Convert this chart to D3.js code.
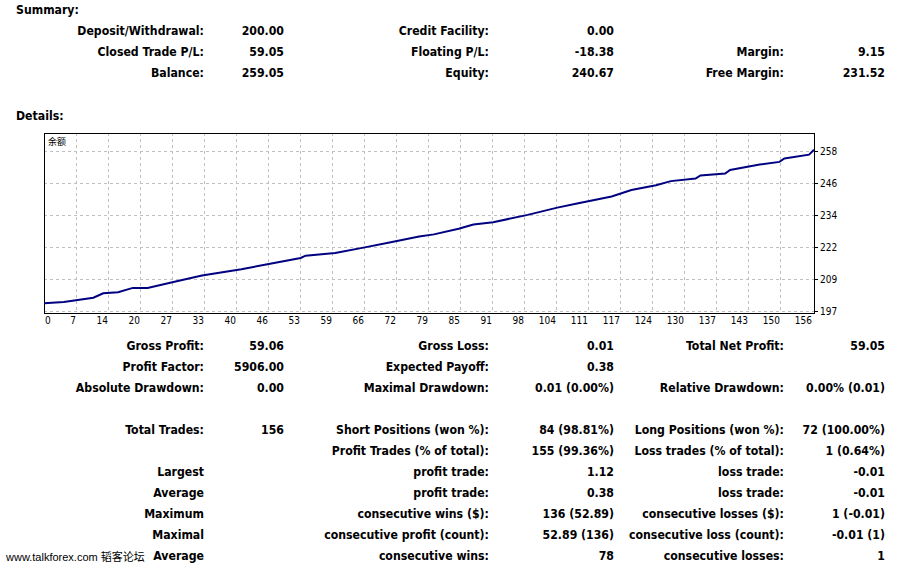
<!DOCTYPE html>
<html>
<head>
<meta charset="utf-8">
<script src="https://cdn.jsdelivr.net/npm/d3@7"></script>
<style>
  body { margin: 0; background: #fff; }
  text { fill: #000; }
</style>
</head>
<body>
<div id="chart"></div>
<script>
// summary block
const summaryLabelsA = ["Deposit/Withdrawal:", "Closed Trade P/L:", "Balance:"];
const summaryValuesA = ["200.00", "59.05", "259.05"];
const summaryLabelsB = ["Credit Facility:", "Floating P/L:", "Equity:"];
const summaryValuesB = ["0.00", "-18.38", "240.67"];
const summaryLabelsC = ["", "Margin:", "Free Margin:"];
const summaryValuesC = ["", "9.15", "231.52"];

// details block
const detailLabelsA = ["Gross Profit:", "Profit Factor:", "Absolute Drawdown:", "", "Total Trades:", "", "Largest", "Average", "Maximum", "Maximal", "Average"];
const detailValuesA = ["59.06", "5906.00", "0.00", "", "156", "", "", "", "", "", ""];
const detailLabelsB = ["Gross Loss:", "Expected Payoff:", "Maximal Drawdown:", "", "Short Positions (won %):", "Profit Trades (% of total):", "profit trade:", "profit trade:", "consecutive wins ($):", "consecutive profit (count):", "consecutive wins:"];
const detailValuesB = ["0.01", "0.38", "0.01 (0.00%)", "", "84 (98.81%)", "155 (99.36%)", "1.12", "0.38", "136 (52.89)", "52.89 (136)", "78"];
const detailLabelsC = ["Total Net Profit:", "", "Relative Drawdown:", "", "Long Positions (won %):", "Loss trades (% of total):", "loss trade:", "loss trade:", "consecutive losses ($):", "consecutive loss (count):", "consecutive losses:"];
const detailValuesC = ["59.05", "", "0.00% (0.01)", "", "72 (100.00%)", "1 (0.64%)", "-0.01", "-0.01", "1 (-0.01)", "-0.01 (1)", "1"];

// balance curve
const tradeNo = [0, 4, 10, 12, 15, 18, 21, 26, 32, 40, 45, 52, 53, 59, 65, 70, 76, 79, 84, 87, 91, 98, 104, 108, 115, 119, 124, 127, 132, 133, 138, 139, 145, 149, 150, 155, 156];
const balance = [200.0, 200.5, 202.1, 203.8, 204.2, 205.9, 205.9, 208.1, 210.7, 213.1, 214.9, 217.4, 218.3, 219.3, 221.5, 223.4, 225.7, 226.5, 228.7, 230.3, 231.2, 234.0, 236.8, 238.4, 241.1, 243.6, 245.4, 247.0, 248.0, 249.2, 249.9, 251.3, 253.4, 254.4, 255.7, 257.2, 259.05];

const xTickLabels = ["0", "7", "14", "20", "27", "33", "40", "46", "53", "59", "66", "72", "79", "85", "91", "98", "104", "111", "117", "124", "130", "137", "143", "150", "156"];
const yTickLabels = ["197", "209", "222", "234", "246", "258"];

const width = 922, height = 567;
const plot = {left: 44, top: 133, right: 814, bottom: 313};
const font = "'DejaVu Sans Condensed', 'Liberation Sans', sans-serif";

let svg = d3.select("#chart").append("svg")
    .attr("width", width)
    .attr("height", height)
    .style("font-family", font)
    .style("font-weight", "bold")
    .style("font-size", "12.2px");

// headings
svg.append("text").attr("x", 16).attr("y", 14).text("Summary:");
svg.append("text").attr("x", 16).attr("y", 120).text("Details:");

// rows of label / value pairs, right aligned
function drawColumn(labels, values, labelX, valueX, rowY) {
  let g = svg.append("g");
  g.selectAll(".lbl")
      .data(labels)
    .enter()
      .append("text")
      .attr("x", labelX)
      .attr("y", (d, i) => rowY(i))
      .attr("text-anchor", "end")
      .text(d => d);
  g.selectAll(".val")
      .data(values)
    .enter()
      .append("text")
      .attr("x", valueX)
      .attr("y", (d, i) => rowY(i))
      .attr("text-anchor", "end")
      .text(d => d);
}

const summaryRow = i => 35 + i * 21;
const detailRow = i => 350 + i * 21;

drawColumn(summaryLabelsA, summaryValuesA, 204, 284, summaryRow);
drawColumn(summaryLabelsB, summaryValuesB, 489, 614, summaryRow);
drawColumn(summaryLabelsC, summaryValuesC, 784, 885, summaryRow);
drawColumn(detailLabelsA, detailValuesA, 204, 284, detailRow);
drawColumn(detailLabelsB, detailValuesB, 489, 614, detailRow);
drawColumn(detailLabelsC, detailValuesC, 784, 885, detailRow);

// chart scales
let x = d3.scaleLinear().domain([0, 156]).range([plot.left, plot.right]);
let y = d3.scaleLinear().domain([197, 258.6]).range([311, 151]);
let xTicks = d3.scalePoint().domain(xTickLabels).range([plot.left, plot.right - 2]);
let yTicks = d3.scalePoint().domain(yTickLabels).range([311, 151]);

let chart = svg.append("g")
    .style("font-weight", "normal")
    .style("font-size", "10px");

// dashed grid
chart.selectAll(".vgrid")
    .data(xTickLabels.slice(1, -1))
  .enter()
    .append("line")
    .attr("x1", d => Math.round(xTicks(d)) + 0.5)
    .attr("x2", d => Math.round(xTicks(d)) + 0.5)
    .attr("y1", plot.top)
    .attr("y2", plot.bottom)
    .attr("stroke", "#c0c0c0")
    .attr("stroke-dasharray", "3,3");

chart.selectAll(".hgrid")
    .data(yTickLabels)
  .enter()
    .append("line")
    .attr("x1", plot.left)
    .attr("x2", plot.right)
    .attr("y1", d => Math.round(yTicks(d)) + 0.5)
    .attr("y2", d => Math.round(yTicks(d)) + 0.5)
    .attr("stroke", "#c0c0c0")
    .attr("stroke-dasharray", "3,3");

// frame
chart.append("rect")
    .attr("x", plot.left + 0.5)
    .attr("y", plot.top + 0.5)
    .attr("width", plot.right - plot.left)
    .attr("height", plot.bottom - plot.top)
    .attr("fill", "none")
    .attr("stroke", "#000");

// right axis
chart.selectAll(".ytick")
    .data(yTickLabels)
  .enter()
    .append("line")
    .attr("x1", plot.right + 1)
    .attr("x2", plot.right + 4)
    .attr("y1", d => Math.round(yTicks(d)) + 0.5)
    .attr("y2", d => Math.round(yTicks(d)) + 0.5)
    .attr("stroke", "#000");

chart.selectAll(".ylabel")
    .data(yTickLabels)
  .enter()
    .append("text")
    .attr("x", plot.right + 6)
    .attr("y", d => yTicks(d) + 4)
    .text(d => d);

// bottom axis
chart.selectAll(".xlabel")
    .data(xTickLabels)
  .enter()
    .append("text")
    .attr("x", (d, i) => i === 0 ? xTicks(d) + 1 : xTicks(d))
    .attr("y", 324)
    .attr("text-anchor", (d, i) => i === 0 ? "start" : "end")
    .text(d => d);

chart.append("text")
    .attr("x", 48)
    .attr("y", 145)
    .style("font-family", "'Noto Sans CJK SC', sans-serif")
    .style("font-size", "9px")
    .text("余额");

// balance line
let line = d3.line()
    .x((d, i) => x(tradeNo[i]))
    .y(d => y(d));

chart.append("path")
    .datum(balance)
    .attr("d", line)
    .attr("fill", "none")
    .attr("stroke", "#000080")
    .attr("stroke-width", 2);

// watermark
svg.append("text")
    .attr("x", 6)
    .attr("y", 561)
    .style("font-family", "'Liberation Sans', 'Noto Sans CJK SC', sans-serif")
    .style("font-size", "11px")
    .style("font-weight", "normal")
    .text("www.talkforex.com 韬客论坛");
</script>
</body>
</html>
